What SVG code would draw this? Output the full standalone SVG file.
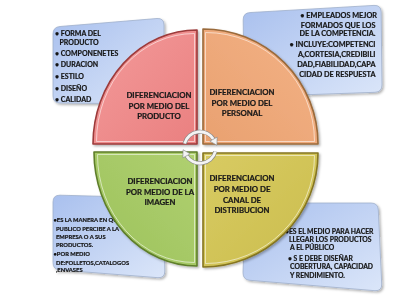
<svg xmlns="http://www.w3.org/2000/svg" width="400" height="298" viewBox="0 0 400 298">
<defs>
<linearGradient id="gBox" x1="0" y1="0" x2="1" y2="1">
<stop offset="0" stop-color="#a9c0ee"/>
<stop offset="1" stop-color="#dbe6f9"/>
</linearGradient>
<linearGradient id="gRed" x1="0" y1="0" x2="1" y2="1">
<stop offset="0" stop-color="#f39a9a"/>
<stop offset="1" stop-color="#ea8080"/>
</linearGradient>
<linearGradient id="gOra" x1="1" y1="0" x2="0" y2="1">
<stop offset="0" stop-color="#f3b286"/>
<stop offset="1" stop-color="#e9a170"/>
</linearGradient>
<linearGradient id="gGre" x1="0" y1="1" x2="1" y2="0">
<stop offset="0" stop-color="#9cc25c"/>
<stop offset="1" stop-color="#b0d070"/>
</linearGradient>
<linearGradient id="gYel" x1="1" y1="1" x2="0" y2="0">
<stop offset="0" stop-color="#cbbd4e"/>
<stop offset="1" stop-color="#d8cb62"/>
</linearGradient>
<filter id="sh" x="-10%" y="-10%" width="125%" height="125%">
<feDropShadow dx="1.5" dy="1.5" stdDeviation="1.2" flood-color="#000" flood-opacity="0.3"/>
</filter>
<marker id="ah" viewBox="-1 -5 9 10" refX="1" refY="0" markerWidth="9" markerHeight="10" markerUnits="userSpaceOnUse" orient="auto">
<path d="M0,-4.2 L7,0 L0,4.2 Z" fill="#f4f4f4" stroke="#8a8a8a" stroke-width="0.6"/>
</marker>
</defs>
<style>
.box{fill:url(#gBox);stroke:#9fb0cc;stroke-width:0.8}
.bt{font-family:Lato,"Open Sans","Liberation Sans",sans-serif;font-weight:bold;fill:#151515;stroke:#151515;stroke-width:0.2}
.ql{font-family:Lato,"Open Sans","Liberation Sans",sans-serif;font-weight:bold;font-size:7.8px;fill:#1a1a1a;stroke:#1a1a1a;stroke-width:0.22;text-anchor:middle}
.hl{fill:none;stroke:#ffffff;stroke-opacity:0.55;stroke-width:1}
</style>

<g id="box-producto" filter="url(#sh)">
<path class="box" d="M60,26.5 L157,18.5 Q164,18 164,25 L164,97 Q164,104 157,104 L60,103 Q53,103 53,96 L53,34 Q53,27 60,26.5 Z"/>
<g class="bt" font-size="7px">
<text x="55" y="36">• FORMA DEL</text>
<text x="59.5" y="45">PRODUCTO</text>
<text x="55" y="56">• COMPONENETES</text>
<text x="55" y="67">• DURACION</text>
<text x="55" y="79">• ESTILO</text>
<text x="55" y="90.5">• DISEÑO</text>
<text x="55" y="102">• CALIDAD</text>
</g>
</g>

<g id="box-personal" filter="url(#sh)">
<path class="box" d="M251,12.5 L374,5.4 Q381,5 381.1,12 L382,85 Q382,92 375,92.3 L251,96.7 Q244,97 244,90 L243.2,20 Q243,13 250,12.6 Z"/>
<g class="bt" font-size="7.3px" text-anchor="end">
<text x="377" y="17.5">• EMPLEADOS MEJOR</text>
<text x="375.5" y="27.5">FORMADOS QUE LOS</text>
<text x="375.5" y="36">DE LA COMPETENCIA.</text>
<text x="375.5" y="46.5">• INCLUYE:COMPETENCI</text>
<text x="375.5" y="56.5">A,CORTESIA,CREDIBILI</text>
<text x="375.5" y="66.5">DAD,FIABILIDAD,CAPA</text>
<text x="375.5" y="76.5">CIDAD DE RESPUESTA</text>
</g>
</g>

<g id="box-imagen" filter="url(#sh)">
<path class="box" d="M60,195.2 L156,197.8 Q163,198 163.2,205 L164.8,271 Q165,278 158,277.7 L60,270 Q53,269.5 53,262.5 L53,202 Q53,195 60,195.2 Z"/>
<g class="bt" font-size="5.8px">
<text x="53.5" y="222">•ES LA MANERA EN QUE</text>
<text x="56" y="231">PUBLICO PERCIBE A LA</text>
<text x="56" y="238.5">EMPRESA O A SUS</text>
<text x="56" y="247">PRODUCTOS.</text>
<text x="53.5" y="255.5">•POR MEDIO</text>
<text x="56" y="265">DE:FOLLETOS,CATALOGOS</text>
<text x="56" y="272">,ENVASES</text>
</g>
</g>

<g id="box-distribucion" filter="url(#sh)">
<path class="box" d="M252,203 L371,203 Q378,203 378.3,210 L381.7,284 Q382,291 375,290.7 L250,280.3 Q243,279.8 243,272.8 L245,210 Q245,203 252,203 Z"/>
<g class="bt" font-size="6.8px">
<text x="285" y="233.5">•ES EL MEDIO PARA HACER</text>
<text x="289" y="241.5">LLEGAR LOS PRODUCTOS</text>
<text x="290" y="249.5">A EL PÚBLICO</text>
<text x="288" y="260.5">• S E DEBE DISEÑAR</text>
<text x="290" y="268.5">COBERTURA, CAPACIDAD</text>
<text x="290" y="277.5">Y RENDIMIENTO.</text>
</g>
</g>

<g id="q-producto" filter="url(#sh)">
<path d="M197,144 L93,144 A104 114 0 0 1 197,30 Z" fill="url(#gRed)" stroke="#9c3a3a" stroke-width="1.6" stroke-linejoin="round"/>
<path class="hl" d="M194.5,141.5 L96.5,141.5 A98 108 0 0 1 194.5,33.5 Z"/>
<text class="ql" x="159" y="98">DIFERENCIACION</text>
<text class="ql" x="159" y="109">POR MEDIO DEL</text>
<text class="ql" x="159" y="119">PRODUCTO</text>
</g>

<g id="q-personal" filter="url(#sh)">
<path d="M203,144 L203,29 A115 115 0 0 1 318,144 Z" fill="url(#gOra)" stroke="#9a6a3a" stroke-width="1.6" stroke-linejoin="round"/>
<path class="hl" d="M205.5,141.5 L205.5,32.5 A109 109 0 0 1 314.5,141.5 Z"/>
<text class="ql" x="242" y="95">DIFERENCIACION</text>
<text class="ql" x="242" y="106">POR MEDIO DEL</text>
<text class="ql" x="242" y="116">PERSONAL</text>
</g>

<g id="q-imagen" filter="url(#sh)">
<path d="M197,152 L197,266 A103 114 0 0 1 94,152 Z" fill="url(#gGre)" stroke="#5e7e2a" stroke-width="1.6" stroke-linejoin="round"/>
<path class="hl" d="M194.5,154.5 L194.5,262.5 A97 108 0 0 1 97.5,154.5 Z"/>
<text class="ql" x="160" y="184">DIFERENCIACION</text>
<text class="ql" x="160" y="195">POR MEDIO DE LA</text>
<text class="ql" x="160" y="205">IMAGEN</text>
</g>

<g id="q-distribucion" filter="url(#sh)">
<path d="M203,153 L318,153 A115 114 0 0 1 203,267 Z" fill="url(#gYel)" stroke="#857520" stroke-width="1.6" stroke-linejoin="round"/>
<path class="hl" d="M205.5,155.5 L314.5,155.5 A109 108 0 0 1 205.5,263.5 Z"/>
<text class="ql" x="242" y="181">DIFERENCIACION</text>
<text class="ql" x="242" y="192">POR MEDIO DE</text>
<text class="ql" x="242" y="203">CANAL DE</text>
<text class="ql" x="242" y="213">DISTRIBUCION</text>
</g>

<g id="connectors">
<path d="M184.6,143.5 A16 16 0 0 1 214,140" fill="none" stroke="#8a8a8a" stroke-width="4.2"/>
<path d="M184.6,143.5 A16 16 0 0 1 214,140" fill="none" stroke="#f4f4f4" stroke-width="2.8" marker-end="url(#ah)"/>
<path d="M215.4,151.5 A16 16 0 0 1 186,155" fill="none" stroke="#8a8a8a" stroke-width="4.2"/>
<path d="M215.4,151.5 A16 16 0 0 1 186,155" fill="none" stroke="#f4f4f4" stroke-width="2.8" marker-end="url(#ah)"/>
</g>
</svg>
